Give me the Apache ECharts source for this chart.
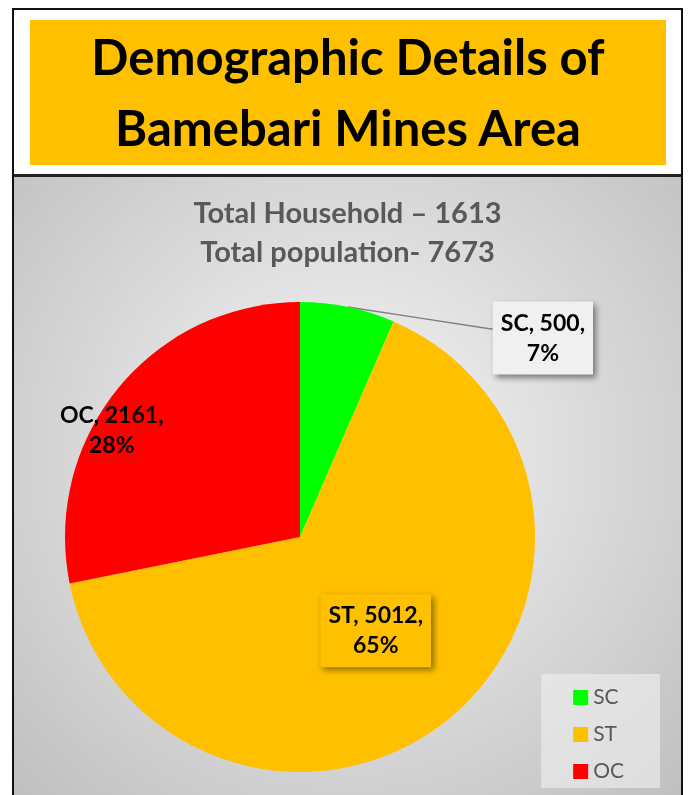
<!DOCTYPE html>
<html>
<head>
<meta charset="utf-8">
<script src="https://cdn.jsdelivr.net/npm/echarts@6/dist/echarts.min.js"></script>
<style>
  html, body { margin: 0; padding: 0; background: #fff; }
  body { width: 688px; height: 795px; position: relative; overflow: hidden; }
  #frame {
    position: absolute; left: 12px; top: 8px; width: 667px; height: 800px;
    border: 2px solid #111; box-sizing: content-box;
  }
  #head {
    position: absolute; left: 30px; top: 20px; width: 636px; height: 145px;
    background: #FFC000; text-align: center;
    font-family: Lato, sans-serif; font-weight: bold; font-size: 49px;
    line-height: 71px; color: #000; padding-top: 1px; box-sizing: border-box;
  }
  #divider { position: absolute; left: 14px; top: 174px; width: 667px; height: 3px; background: #222; }
  #chart { position: absolute; left: 14px; top: 177px; width: 667px; height: 618px; }
</style>
</head>
<body>
<div id="frame"></div>
<div id="head">Demographic Details of<br>Bamebari Mines Area</div>
<div id="divider"></div>
<div id="chart"></div>
<script>
  // data
  const categories = ['SC', 'ST', 'OC']
  const values = [500, 5012, 2161]
  const colors = ['#00FF00', '#FFC000', '#FF0000']
  const subTitle = ['Total Household – 1613', 'Total population- 7673']

  const chartInstance = echarts.init(document.getElementById('chart'), null, { renderer: 'canvas' })

  const labelBase = {
    fontFamily: 'Lato, sans-serif',
    fontWeight: 'bold',
    fontSize: 23,
    lineHeight: 30,
    color: '#000',
    padding: [7, 8, 6, 8],
    formatter: '{b}, {c},\n{d}%',
    shadowColor: 'rgba(0,0,0,0.45)',
    shadowBlur: 6,
    shadowOffsetX: 3,
    shadowOffsetY: 3
  }

  const seriesData = categories.map((name, i) => {
    const item = { name: name, value: values[i], itemStyle: { color: colors[i] } }
    if (i === 0) {
      // SC sits outside with a leader line
      item.label = { position: 'outside', backgroundColor: '#f0f0f0' }
      item.labelLine = { show: true, length: 10, length2: 20, lineStyle: { color: '#7f7f7f', width: 1.5 } }
    } else if (i === 1) {
      item.label = { position: 'inside', backgroundColor: '#FFC000' }
    } else {
      item.label = { position: 'inside', backgroundColor: 'transparent', offset: [-95, -30] }
    }
    return item
  })

  const option = {
    animation: false,
    backgroundColor: {
      type: 'radial', x: 0.5, y: 0.45, r: 0.8,
      colorStops: [
        { offset: 0, color: '#f7f7f7' },
        { offset: 1, color: '#bdbdbd' }
      ]
    },
    title: {
      text: subTitle.join('\n'),
      left: 'center',
      top: 12,
      textStyle: {
        fontFamily: 'Lato, sans-serif',
        fontWeight: 'bold',
        fontSize: 29,
        lineHeight: 39,
        color: '#595959'
      }
    },
    legend: {
      orient: 'vertical',
      right: 21,
      bottom: 7,
      data: categories,
      icon: 'rect',
      itemWidth: 15,
      itemHeight: 15,
      itemGap: 16,
      padding: [13, 36, 6, 32],
      backgroundColor: 'rgba(240,240,240,0.6)',
      textStyle: { fontFamily: 'Lato, sans-serif', fontSize: 21, color: '#595959' }
    },
    series: [{
      type: 'pie',
      center: [286, 360],
      radius: 235,
      startAngle: 90,
      clockwise: true,
      percentPrecision: 0,
      emphasis: { disabled: true },
      label: labelBase,
      labelLayout: function (params) {
        if (params.dataIndex !== 0) return {}
        const shiftX = 118
        const dy = 41
        const r = params.labelRect
        // centre the two text lines inside the box
        const out = { align: 'center', dx: shiftX + r.width / 2, dy: dy }
        if (params.labelLinePoints && params.labelLinePoints.length) {
          const p0 = params.labelLinePoints[0]
          const end = [r.x + shiftX, r.y + dy + r.height * 0.38]
          out.labelLinePoints = [p0, [(p0[0] + end[0]) / 2, (p0[1] + end[1]) / 2], end]
        }
        return out
      },
      data: seriesData
    }]
  }

  chartInstance.setOption(option)
</script>
</body>
</html>
